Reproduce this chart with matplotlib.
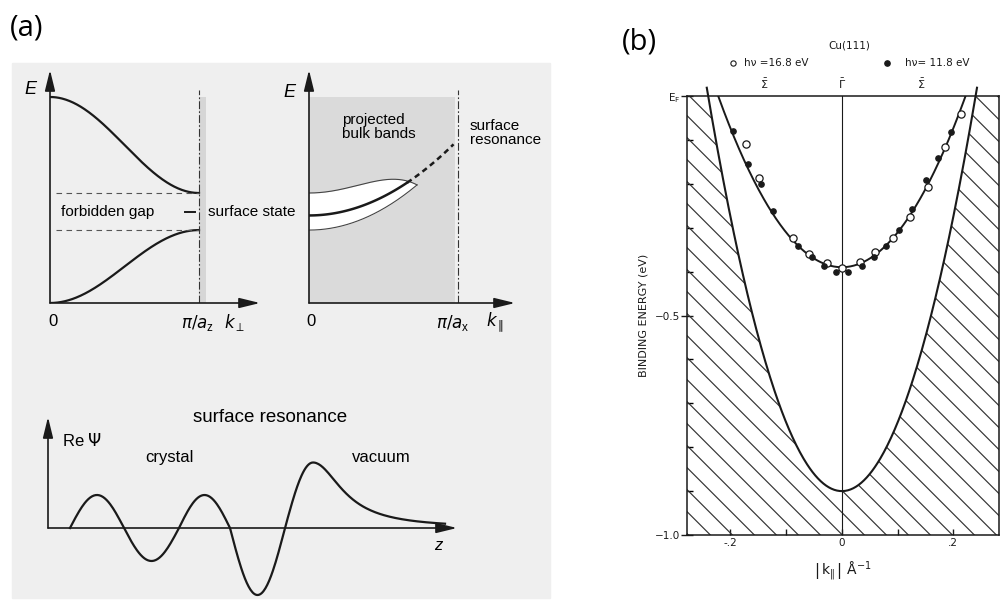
import numpy as np
import matplotlib
matplotlib.use("Agg")
import matplotlib.pyplot as plt
from matplotlib.patches import Rectangle, Polygon

W, H = 1005, 603

# ---- (a) top left: bulk bands along k_perp (k in units of pi/a_z, E in band units)
upper_band_top = 1.0
upper_band_bottom = 0.534
lower_band_top = 0.354
surface_state_level = 0.442

# ---- (a) top right: projected bulk bands and the surface state / resonance
bulk_shade_edge = 0.98
ss_k0_energy = 0.425
ss_curvature = 0.367
ss_solid_end = 0.658
ss_dashed_end = 0.97
pocket_tip = 0.725
pocket_curvature = 0.417
pocket_width = 0.18

# ---- (a) bottom: Re Psi along z
psi_nodes = [0.22, 0.76, 1.31, 1.82, 2.37]
psi_lobes = [0.33, -0.33, 0.33, -0.67]
res_peak_z = 2.65
res_peak_amp = 0.655
res_width = 0.35
psi_end = 3.97

# ---- (b) Cu(111) surface state, ARPES points
k_open = [-0.172, -0.148, -0.088, -0.059, -0.027, 0.000, 0.032, 0.060,
          0.092, 0.122, 0.154, 0.185, 0.213]
E_open = [-0.109, -0.186, -0.323, -0.360, -0.381, -0.391, -0.377, -0.355,
          -0.323, -0.275, -0.207, -0.117, -0.041]
k_filled = [-0.196, -0.169, -0.146, -0.124, -0.078, -0.054, -0.032, -0.010,
            0.011, 0.036, 0.057, 0.080, 0.102, 0.126, 0.151, 0.172, 0.195]
E_filled = [-0.080, -0.155, -0.201, -0.262, -0.342, -0.367, -0.387, -0.402,
            -0.400, -0.387, -0.367, -0.342, -0.306, -0.257, -0.191, -0.141, -0.081]
ss_E0, ss_kF = -0.39, 0.222
bulk_E0, bulk_kF, bulk_kmax = -0.90, 0.24, 0.2425

SANS = "Liberation Sans"
INK = "#1a1a1a"


def px_axes(fig, x0, y0, x1, y1):
    return fig.add_axes([x0 / W, 1 - y1 / H, (x1 - x0) / W, (y1 - y0) / H])


def arrow(ax, start, end, lw=1.2):
    ax.annotate("", xy=end, xytext=start,
                arrowprops=dict(arrowstyle="-|>,head_length=0.9,head_width=0.22",
                                mutation_scale=14, lw=lw, color=INK,
                                shrinkA=0, shrinkB=0),
                annotation_clip=False)


fig = plt.figure(figsize=(W / 100, H / 100), dpi=100)
fig.add_artist(Rectangle((12 / W, 1 - 598 / H), 538 / W, 535 / H,
                         transform=fig.transFigure, color="#efefef", zorder=0))

fig.text(10 / W, 1 - 28 / H, "(a)", family="Open Sans", fontsize=21, va="center")
fig.text(622 / W, 1 - 42 / H, "(b)", family="Open Sans", fontsize=21, va="center")

# ---------------- (a) bulk bands along k_perp
ax1 = px_axes(fig, 50, 70, 260, 303)
ax1.set_xlim(0, 210 / 149)
ax1.set_ylim(0, 233 / 206)
ax1.axis("off")
k = np.linspace(0, 1, 200)
upper = upper_band_bottom + (upper_band_top - upper_band_bottom) * (1 + np.cos(np.pi * k)) / 2
lower = lower_band_top * (1 - np.cos(np.pi * k)) / 2
ax1.plot(k, upper, color=INK, lw=1.6)
ax1.plot(k, lower, color=INK, lw=1.6)
for lev in (upper_band_bottom, lower_band_top):
    ax1.plot([0.04, 1], [lev, lev], color="#555555", lw=0.8, dashes=(5, 4))
ax1.add_patch(Rectangle((1, 0), 0.045, 1.0, color="#d6d6d6", lw=0))
ax1.plot([1, 1], [0, 1.034], color="#333333", lw=0.8, dashes=(7, 2, 1.5, 2))
ax1.plot([0.906, 0.973], [surface_state_level] * 2, color=INK, lw=1.4)
arrow(ax1, (0, 0), (210 / 149, 0))
arrow(ax1, (0, 0), (0, 233 / 206))
ax1.text(0.39, surface_state_level, "forbidden gap", family=SANS, fontsize=11,
         ha="center", va="center")
ax1.text(1.06, surface_state_level, "surface state", family=SANS, fontsize=11,
         ha="left", va="center")
ax1.text(-0.134, 1.034, "E", family=SANS, style="italic", fontsize=13,
         ha="center", va="center")
ax1.text(0.02, -0.09, "0", family=SANS, fontsize=12, ha="center", va="center")
ax1.text(0.993, -0.095, r"$\pi/a_\mathregular{z}$", family=SANS, fontsize=12,
         ha="center", va="center")
ax1.text(1.24, -0.095, r"$k_\perp$", family=SANS, fontsize=12,
         ha="center", va="center")

# ---------------- (a) projected bulk bands along k_par
ax2 = px_axes(fig, 309, 70, 515, 303)
ax2.set_xlim(0, 206 / 149)
ax2.set_ylim(0, 233 / 206)
ax2.axis("off")
ax2.add_patch(Rectangle((0, 0), bulk_shade_edge, 1.0, color="#dadada", lw=0))
kp = np.linspace(0, pocket_tip, 200)
pocket_low = lower_band_top + pocket_curvature * kp ** 2
pocket_up = pocket_low + pocket_width * (1 - (kp / pocket_tip) ** 4)
ax2.fill_between(kp, pocket_low, pocket_up, color="white", lw=0)
ax2.plot(kp, pocket_low, color="#444444", lw=0.8)
ax2.plot(kp, pocket_up, color="#444444", lw=0.8)
ks = np.linspace(0, ss_solid_end, 100)
ax2.plot(ks, ss_k0_energy + ss_curvature * ks ** 2, color=INK, lw=1.8)
kd = np.linspace(ss_solid_end, ss_dashed_end, 50)
ax2.plot(kd, ss_k0_energy + ss_curvature * kd ** 2, color=INK, lw=1.8, dashes=(2.2, 1.6))
ax2.plot([1, 1], [0, 1.034], color="#333333", lw=0.8, dashes=(7, 2, 1.5, 2))
arrow(ax2, (0, 0), (206 / 149, 0))
arrow(ax2, (0, 0), (0, 233 / 206))
ax2.text(-0.128, 1.024, "E", family=SANS, style="italic", fontsize=13,
         ha="center", va="center")
ax2.text(0.221, 0.854, "projected\nbulk bands", family=SANS, fontsize=11,
         ha="left", va="center", linespacing=1.0)
ax2.text(1.08, 0.825, "surface\nresonance", family=SANS, fontsize=11,
         ha="left", va="center", linespacing=1.0)
ax2.text(0.013, -0.09, "0", family=SANS, fontsize=12, ha="center", va="center")
ax2.text(0.966, -0.095, r"$\pi/a_\mathregular{x}$", family=SANS, fontsize=12,
         ha="center", va="center")
ax2.text(1.25, -0.095, r"$k_\parallel$", family=SANS, fontsize=12,
         ha="center", va="center")

# ---------------- (a) surface resonance wave function
ax3 = px_axes(fig, 48, 417, 460, 600)
ax3.set_xlim(0, 4.12)
ax3.set_ylim(-0.72, 1.11)
ax3.axis("off")
zs, ps = [], []
for z0, z1, amp in zip(psi_nodes[:-1], psi_nodes[1:], psi_lobes):
    z = np.linspace(z0, z1, 60)
    zs.append(z)
    ps.append(amp * np.sin(np.pi * (z - z0) / (z1 - z0)))
z = np.linspace(psi_nodes[-1], res_peak_z, 40)
zs.append(z)
ps.append(res_peak_amp * np.sin(0.5 * np.pi * (z - psi_nodes[-1]) / (res_peak_z - psi_nodes[-1])))
z = np.linspace(res_peak_z, psi_end, 120)
zs.append(z)
ps.append(res_peak_amp / (1 + ((z - res_peak_z) / res_width) ** 2))
ax3.plot(np.concatenate(zs), np.concatenate(ps), color=INK, lw=1.6)
arrow(ax3, (0, 0), (4.09, 0))
arrow(ax3, (0, 0), (0, 1.11))
ax3.text(2.22, 1.10, "surface resonance", family=SANS, fontsize=13.5,
         ha="center", va="center")
ax3.text(0.14, 0.88, r"Re $\mathit{\Psi}$", family=SANS, fontsize=12, ha="left", va="center")
ax3.text(1.21, 0.71, "crystal", family=SANS, fontsize=12, ha="center", va="center")
ax3.text(3.33, 0.71, "vacuum", family=SANS, fontsize=12, ha="center", va="center")
ax3.text(3.90, -0.17, "z", family=SANS, style="italic", fontsize=12,
         ha="center", va="center")

# ---------------- (b) Cu(111) dispersion
bx0, by0, bx1, by1 = 687, 96, 999, 535
kmin, kmax = -0.278, 0.282
axb = px_axes(fig, bx0, by0, bx1, by1)
axb.set_xlim(kmin, kmax)
axb.set_ylim(-1.0, 0.0)
for sp in axb.spines.values():
    sp.set_linewidth(1.1)
    sp.set_color(INK)

kk = np.linspace(kmin, kmax, 600)
curv_bulk = -bulk_E0 / bulk_kF ** 2
edge = bulk_E0 + curv_bulk * kk ** 2
hatch_region = Polygon(np.column_stack([np.r_[kk, kmax, kmin],
                                        np.r_[np.minimum(edge, 0), -1, -1]]),
                       closed=True, facecolor="none", edgecolor="none")
axb.add_patch(hatch_region)
# 45 degree hatch lines, 22 px apart
slope = -((bx1 - bx0) / (kmax - kmin)) / ((by1 - by0) / 1.0)
step = 22 / (by1 - by0)
for c in np.arange(-1.5, 0.5, step):
    ln, = axb.plot([kmin, kmax], [c + slope * kmin, c + slope * kmax],
                   color="#333333", lw=0.85)
    ln.set_clip_path(hatch_region)

kb = np.linspace(-bulk_kmax, bulk_kmax, 300)
axb.plot(kb, bulk_E0 + curv_bulk * kb ** 2, color=INK, lw=1.5, clip_on=False)
ksf = np.linspace(-ss_kF, ss_kF, 300)
axb.plot(ksf, ss_E0 - ss_E0 / ss_kF ** 2 * ksf ** 2, color=INK, lw=1.4)
axb.plot([0, 0], [-1, 0], color=INK, lw=0.8)
axb.plot(k_open, E_open, "o", mfc="white", mec=INK, mew=0.9, ms=5.2, zorder=5)
axb.plot(k_filled, E_filled, "o", color=INK, ms=3.8, zorder=5)

axb.set_yticks([0, -0.5, -1.0])
axb.set_yticklabels([r"E$_\mathregular{F}$", "\u22120.5", "\u22121.0"])
axb.set_yticks(np.arange(-0.9, 0, 0.1), minor=True)
axb.set_xticks([-0.2, 0, 0.2])
axb.set_xticklabels(["-.2", "0", ".2"])
axb.set_xticks([-0.1, 0.1], minor=True)
axb.tick_params(axis="y", which="major", direction="inout", length=8, width=1,
                labelsize=7.5, pad=1, colors=INK)
axb.tick_params(axis="y", which="minor", direction="in", length=4, width=1)
axb.tick_params(axis="x", which="both", direction="in", length=4, width=1,
                labelsize=7.5, pad=2, colors=INK)
axb.set_ylabel("BINDING ENERGY (eV)", fontsize=8, color=INK)
axb.yaxis.set_label_coords(-0.125, 0.5)
axb.set_xlabel(r"$\mathregular{\left|\,k_{\Vert}\,\right|\ \AA^{-1}}$", fontsize=10,
               color=INK)
axb.xaxis.set_label_coords(0.5, -0.055)

top = axb.get_xaxis_transform()
for kx, lab in ((-0.14, r"$\bar{\Sigma}$"), (0.0, r"$\bar{\Gamma}$"), (0.142, r"$\bar{\Sigma}$")):
    axb.text(kx, 1.027, lab, transform=top, fontsize=8, ha="center", va="center",
             color=INK)
axb.text(0.519, 1.116, "Cu(111)", transform=axb.transAxes, fontsize=7.5,
         ha="center", va="center", color=INK)
axb.plot([0.147], [1.075], "o", mfc="white", mec=INK, mew=0.8, ms=3.8,
         transform=axb.transAxes, clip_on=False)
axb.text(0.183, 1.075, "h\u03bd =16.8 eV", transform=axb.transAxes, fontsize=7.5,
         ha="left", va="center", color=INK)
axb.plot([0.641], [1.075], "o", color=INK, ms=3.8,
         transform=axb.transAxes, clip_on=False)
axb.text(0.699, 1.075, "h\u03bd= 11.8 eV", transform=axb.transAxes, fontsize=7.5,
         ha="left", va="center", color=INK)

fig.savefig("out.png", dpi=100, facecolor="white")
